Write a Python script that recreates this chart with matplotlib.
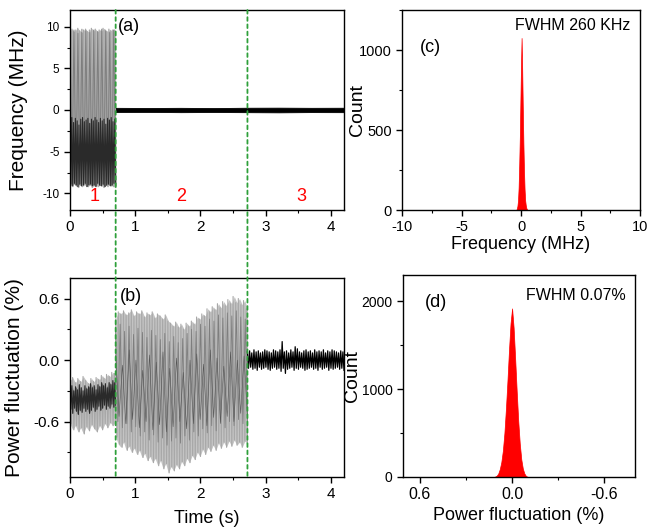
import numpy as np
import matplotlib
matplotlib.use("Agg")
import matplotlib.pyplot as plt
from matplotlib.patches import ConnectionPatch
from matplotlib.ticker import MultipleLocator

plt.rcParams['font.family'] = ['Liberation Sans', 'DejaVu Sans']
plt.rcParams['axes.unicode_minus'] = False

# ---------------- data ----------------
# (a) frequency vs time, segment 1 (0 - 0.7 s): oscillation extremes
a1_light_top = [9.5, 9.7, 9.4, 9.6, 9.8, 9.5, 9.3, 9.6, 9.7, 9.4, 9.6, 9.8, 9.5, 9.7, 9.4, 9.6, 9.5, 9.8, 9.6, 9.4, 9.7, 9.5, 9.6, 9.6]
a1_light_bot = [-9.0, -9.2, -8.9, -9.1, -9.3, -9.0, -9.2, -8.9, -9.1, -9.2, -9.0, -9.3, -9.1, -8.9, -9.2, -9.0, -9.1, -9.3, -9.0, -9.2, -8.9, -9.1, -9.2, -9.3]
a1_mid_top = [9.4, 9.6, 9.2, 9.7, 9.5, 9.3, 9.6, 9.4, 9.7, 9.5, 9.3, 9.6]
a1_mid_bot = [-8.8, -9.0, -8.9, -9.1, -8.8, -9.0, -8.9, -9.1, -9.0, -8.8, -9.1, -9.0]
a1_dark_top = [-1.2, -0.9, -1.5, -1.0, -1.3, -1.8, -1.1, -0.9, -1.4, -1.2, -1.0, -1.6, -1.1, -1.3, -0.9, -1.2, -1.5, -1.0, -1.3, -1.1, -1.7, -1.0, -1.2, -0.9, -1.4, -1.1]
a1_dark_bot = [-8.9, -9.1, -8.8, -9.0, -9.2, -8.9, -9.1, -9.0, -8.8, -9.2, -9.0, -8.9, -9.1, -9.0, -9.2, -8.8, -9.0, -9.1, -8.9, -9.2, -9.0, -8.9, -9.1, -9.0, -8.8, -9.1]
# (a) segments 2-3 (0.7 - 4.2 s): locked, narrow band
a23_t = [0.70, 1.20, 1.70, 2.20, 2.70, 3.20, 3.70, 4.20]
a23_up = [0.26, 0.24, 0.26, 0.23, 0.27, 0.28, 0.26, 0.27]
a23_lo = [-0.24, -0.23, -0.26, -0.24, -0.26, -0.28, -0.25, -0.26]

# (b) power fluctuation vs time
b1_light_top = [-0.20, -0.17, -0.22, -0.18, -0.21, -0.16, -0.20, -0.23, -0.18, -0.21, -0.17, -0.19, -0.15, -0.18, -0.14, -0.16, -0.12, -0.13]
b1_light_bot = [-0.62, -0.68, -0.64, -0.70, -0.66, -0.72, -0.65, -0.69, -0.63, -0.67, -0.70, -0.64, -0.68, -0.62, -0.66, -0.61, -0.64, -0.60]
b1_dark_top = [-0.28, -0.25, -0.30, -0.26, -0.29, -0.24, -0.27, -0.30, -0.25, -0.28, -0.26, -0.23, -0.27, -0.25, -0.29, -0.24, -0.26, -0.22, -0.25, -0.23, -0.27, -0.22, -0.24, -0.20, -0.22]
b1_dark_bot = [-0.48, -0.52, -0.47, -0.50, -0.53, -0.49, -0.51, -0.47, -0.50, -0.48, -0.52, -0.49, -0.46, -0.50, -0.48, -0.45, -0.49, -0.47, -0.44, -0.48, -0.45, -0.47, -0.43, -0.46, -0.44]
b2_top = [0.40, 0.47, 0.45, 0.48, 0.44, 0.46, 0.49, 0.43, 0.47, 0.45, 0.48, 0.42, 0.46, 0.44, 0.47, 0.41, 0.45, 0.43, 0.40, 0.44,
          0.38, 0.36, 0.33, 0.37, 0.32, 0.35, 0.30, 0.36, 0.33, 0.38, 0.35, 0.42, 0.40, 0.45, 0.43, 0.50, 0.47, 0.52, 0.49, 0.55,
          0.51, 0.57, 0.53, 0.59, 0.55, 0.62, 0.56, 0.60, 0.54, 0.58, 0.50]
b2_bot = [-0.75, -0.82, -0.85, -0.80, -0.88, -0.84, -0.90, -0.86, -0.92, -0.88, -0.95, -0.91, -0.98, -0.94, -1.00, -0.96, -1.03, -0.98, -1.06, -1.01,
          -1.10, -1.04, -1.08, -1.02, -1.06, -0.99, -1.03, -0.96, -1.00, -0.93, -0.97, -0.90, -0.94, -0.87, -0.92, -0.85, -0.89, -0.83, -0.88, -0.81,
          -0.86, -0.80, -0.85, -0.79, -0.84, -0.78, -0.83, -0.80, -0.85, -0.79, -0.82]
b2_mid_top = [0.30, 0.35, 0.28, 0.33, 0.25, 0.31, 0.27, 0.22, 0.29, 0.24, 0.20, 0.26, 0.18, 0.23, 0.17, 0.21, 0.26, 0.30, 0.28, 0.35,
              0.33, 0.40, 0.38, 0.44, 0.41, 0.46, 0.43, 0.48, 0.42, 0.40]
b2_mid_bot = [-0.60, -0.66, -0.62, -0.70, -0.65, -0.74, -0.70, -0.78, -0.73, -0.80, -0.76, -0.83, -0.79, -0.76, -0.81, -0.74, -0.78, -0.70, -0.74, -0.67,
              -0.71, -0.64, -0.69, -0.62, -0.66, -0.60, -0.64, -0.58, -0.62, -0.60]
b2_dark_top = [0.05, -0.05, 0.10, 0.00, -0.10, 0.05, -0.02, 0.08, -0.08, 0.02, -0.12, 0.00, 0.06, -0.04, 0.10, 0.02, -0.06, 0.08, 0.00, 0.04]
b2_dark_bot = [-0.55, -0.62, -0.58, -0.66, -0.60, -0.68, -0.63, -0.70, -0.65, -0.60, -0.67, -0.62, -0.58, -0.64, -0.56, -0.61, -0.55, -0.60, -0.52, -0.56]
b3_top = [0.08, 0.09, 0.07, 0.10, 0.08, 0.09, 0.07, 0.08, 0.10, 0.09, 0.08, 0.07, 0.10, 0.09, 0.08, 0.10, 0.18, 0.08, 0.09, 0.07, 0.10, 0.08, 0.13,
          0.11, 0.08, 0.07, 0.09, 0.10, 0.08, 0.09, 0.07, 0.10, 0.08, 0.09, 0.08, 0.10, 0.07, 0.09, 0.08, 0.10, 0.09, 0.08, 0.07, 0.09, 0.08]
b3_bot = [-0.08, -0.07, -0.09, -0.08, -0.10, -0.07, -0.09, -0.08, -0.07, -0.09, -0.10, -0.08, -0.07, -0.09, -0.08, -0.11, -0.08, -0.13, -0.09, -0.08,
          -0.07, -0.10, -0.08, -0.09, -0.07, -0.08, -0.10, -0.09, -0.08, -0.07, -0.09, -0.08, -0.10, -0.07, -0.09, -0.08, -0.07, -0.10, -0.08, -0.09,
          -0.08, -0.07, -0.09, -0.08, -0.10]

# segment boundaries (s)
t_lock = 0.70
t_stab = 2.72
t_end = 4.20

# (c) histogram of frequency (MHz)
c_bins = [-0.40, -0.35, -0.30, -0.25, -0.20, -0.15, -0.10, -0.05, 0.00, 0.05, 0.10, 0.15, 0.20, 0.25, 0.30, 0.35, 0.40, 0.45, 0.50, 0.55]
c_counts = [0, 8, 25, 60, 140, 280, 450, 680, 900, 1075, 880, 640, 420, 250, 130, 60, 30, 12, 4, 0]
# (d) histogram of power fluctuation (%)
d_bins = [0.12, 0.11, 0.10, 0.09, 0.08, 0.07, 0.06, 0.05, 0.04, 0.03, 0.02, 0.01, 0.00,
          -0.01, -0.02, -0.03, -0.04, -0.05, -0.06, -0.07, -0.08, -0.09, -0.10, -0.11]
d_counts = [0, 5, 15, 40, 90, 170, 300, 500, 780, 1100, 1450, 1750, 1920,
            1700, 1350, 980, 640, 380, 200, 95, 40, 12, 3, 0]

region_labels = ['1', '2', '3']
region_x = [0.385, 1.71, 3.55]


def zigzag(top, bot):
    return np.column_stack((top, bot)).ravel()


# ---------------- figure ----------------
fig = plt.figure(figsize=(6.47, 5.27), dpi=100)
W, H = 647, 527


def axrect(l, r, t, b):
    return [l / W, 1 - b / H, (r - l) / W, (b - t) / H]


ax_a = fig.add_axes(axrect(70, 344, 10, 210))
ax_b = fig.add_axes(axrect(70, 344, 278, 477))
ax_c = fig.add_axes(axrect(402, 640, 10, 210))
ax_d = fig.add_axes(axrect(403, 635, 275, 477))

fill_col = '#c4c4c4'
light = '#a8a8a8'
mid = '#7e7e7e'
dark = '#2a2a2a'

# --- (a)
ta = np.linspace(0.0, t_lock, len(a1_light_top))
ax_a.fill_between(ta, a1_light_bot, a1_light_top, color=fill_col, lw=0)
for top, bot, col, lw in [(a1_light_top, a1_light_bot, light, 0.9),
                          (a1_mid_top, a1_mid_bot, mid, 0.7),
                          (a1_dark_top, a1_dark_bot, dark, 0.8)]:
    v = zigzag(top, bot)
    ax_a.plot(np.linspace(0.0, t_lock, len(v)), v, color=col, lw=lw)
td = np.linspace(0.0, t_lock, len(a1_dark_top))
ax_a.fill_between(td, a1_dark_bot, a1_dark_top, color='#3c3c3c', lw=0, alpha=0.55)
ax_a.fill_between(a23_t, a23_lo, a23_up, color='black', lw=0.6)
ax_a.set_xlim(0, 4.2)
ax_a.set_ylim(-12, 12)
ax_a.set_yticks([-10, -5, 0, 5, 10])
ax_a.yaxis.set_minor_locator(MultipleLocator(2.5))
ax_a.set_xticks([0, 1, 2, 3, 4])
ax_a.xaxis.set_minor_locator(MultipleLocator(0.5))
ax_a.tick_params(axis='y', labelsize=8.5)
ax_a.tick_params(axis='x', labelsize=11)
ax_a.set_ylabel('Frequency (MHz)', fontsize=15)
ax_a.yaxis.set_label_coords(-0.153, 0.5)
ax_a.text(0.74, 10.0, '(a)', fontsize=13, va='center', ha='left')
for lab, x in zip(region_labels, region_x):
    ax_a.text(x, -10.4, lab, color='red', fontsize=13, ha='center', va='center')

# --- (b)
for top, bot, t0, t1 in [(b1_light_top, b1_light_bot, 0.0, t_lock),
                         (b2_top, b2_bot, t_lock, t_stab)]:
    ax_b.fill_between(np.linspace(t0, t1, len(top)), bot, top, color=fill_col, lw=0)
for top, bot, col, lw, t0, t1 in [(b1_light_top, b1_light_bot, light, 0.8, 0.0, t_lock),
                                  (b1_dark_top, b1_dark_bot, dark, 0.8, 0.0, t_lock),
                                  (b2_top, b2_bot, light, 0.8, t_lock, t_stab),
                                  (b2_mid_top, b2_mid_bot, mid, 0.6, t_lock, t_stab),
                                  (b2_dark_top, b2_dark_bot, '#555555', 0.4, t_lock, t_stab),
                                  (b3_top, b3_bot, 'black', 0.9, t_stab, t_end)]:
    v = zigzag(top, bot)
    ax_b.plot(np.linspace(t0, t1, len(v)), v, color=col, lw=lw)
ax_b.fill_between(np.linspace(0.0, t_lock, len(b1_dark_top)), b1_dark_bot, b1_dark_top,
                  color='#333333', lw=0, alpha=0.6)
ax_b.set_xlim(0, 4.2)
ax_b.set_ylim(-1.14, 0.8)
ax_b.set_yticks([-0.6, 0.0, 0.6], labels=['-0.6', '0.0', '0.6'])
ax_b.yaxis.set_minor_locator(MultipleLocator(0.3))
ax_b.set_xticks([0, 1, 2, 3, 4])
ax_b.xaxis.set_minor_locator(MultipleLocator(0.5))
ax_b.tick_params(axis='both', labelsize=11)
ax_b.set_ylabel('Power fluctuation (%)', fontsize=15)
ax_b.yaxis.set_label_coords(-0.168, 0.5)
ax_b.set_xlabel('Time (s)', fontsize=13, labelpad=6)
ax_b.text(0.77, 0.62, '(b)', fontsize=13, va='center', ha='left')

# --- (c)
ax_c.fill_between(c_bins, c_counts, 0, color='red', lw=0.5, edgecolor='red')
ax_c.set_xlim(-10, 10)
ax_c.set_ylim(0, 1250)
ax_c.set_xticks([-10, -5, 0, 5, 10])
ax_c.xaxis.set_minor_locator(MultipleLocator(2.5))
ax_c.set_yticks([0, 500, 1000])
ax_c.yaxis.set_minor_locator(MultipleLocator(250))
ax_c.tick_params(axis='both', labelsize=10.5)
ax_c.set_ylabel('Count', fontsize=14)
ax_c.yaxis.set_label_coords(-0.151, 0.5)
ax_c.set_xlabel('Frequency (MHz)', fontsize=13, labelpad=1)
ax_c.text(0.075, 0.81, '(c)', fontsize=13, transform=ax_c.transAxes, va='center', ha='left')
ax_c.text(0.96, 0.925, 'FWHM 260 KHz', fontsize=11.5, transform=ax_c.transAxes, va='center', ha='right')

# --- (d)
ax_d.fill_between(d_bins, d_counts, 0, color='red', lw=0.5, edgecolor='red')
ax_d.set_xlim(0.71, -0.8)
ax_d.set_ylim(0, 2300)
ax_d.set_xticks([0.6, 0.0, -0.6], labels=['0.6', '0.0', '-0.6'])
ax_d.xaxis.set_minor_locator(MultipleLocator(0.3))
ax_d.set_yticks([0, 1000, 2000])
ax_d.yaxis.set_minor_locator(MultipleLocator(500))
ax_d.tick_params(axis='y', labelsize=10)
ax_d.tick_params(axis='x', labelsize=11.5)
ax_d.set_ylabel('Count', fontsize=14)
ax_d.yaxis.set_label_coords(-0.183, 0.5)
ax_d.set_xlabel('Power fluctuation (%)', fontsize=13, labelpad=3)
ax_d.text(0.095, 0.865, '(d)', fontsize=13, transform=ax_d.transAxes, va='center', ha='left')
ax_d.text(0.96, 0.9, 'FWHM 0.07%', fontsize=11.5, transform=ax_d.transAxes, va='center', ha='right')

for ax in (ax_a, ax_b, ax_c, ax_d):
    ax.tick_params(which='major', direction='out', length=4, width=1)
    ax.tick_params(which='minor', direction='out', length=2.5, width=0.8)
    for s in ax.spines.values():
        s.set_linewidth(1.0)

# green dashed boundaries spanning (a) and (b)
for tx in (t_lock, t_stab):
    con = ConnectionPatch(xyA=(tx, 12), coordsA=ax_a.transData,
                          xyB=(tx, -1.14), coordsB=ax_b.transData,
                          color='#2ea03a', lw=1.3, linestyle=(0, (2, 2)), zorder=10)
    fig.add_artist(con)

fig.savefig('out.png', dpi=100)
